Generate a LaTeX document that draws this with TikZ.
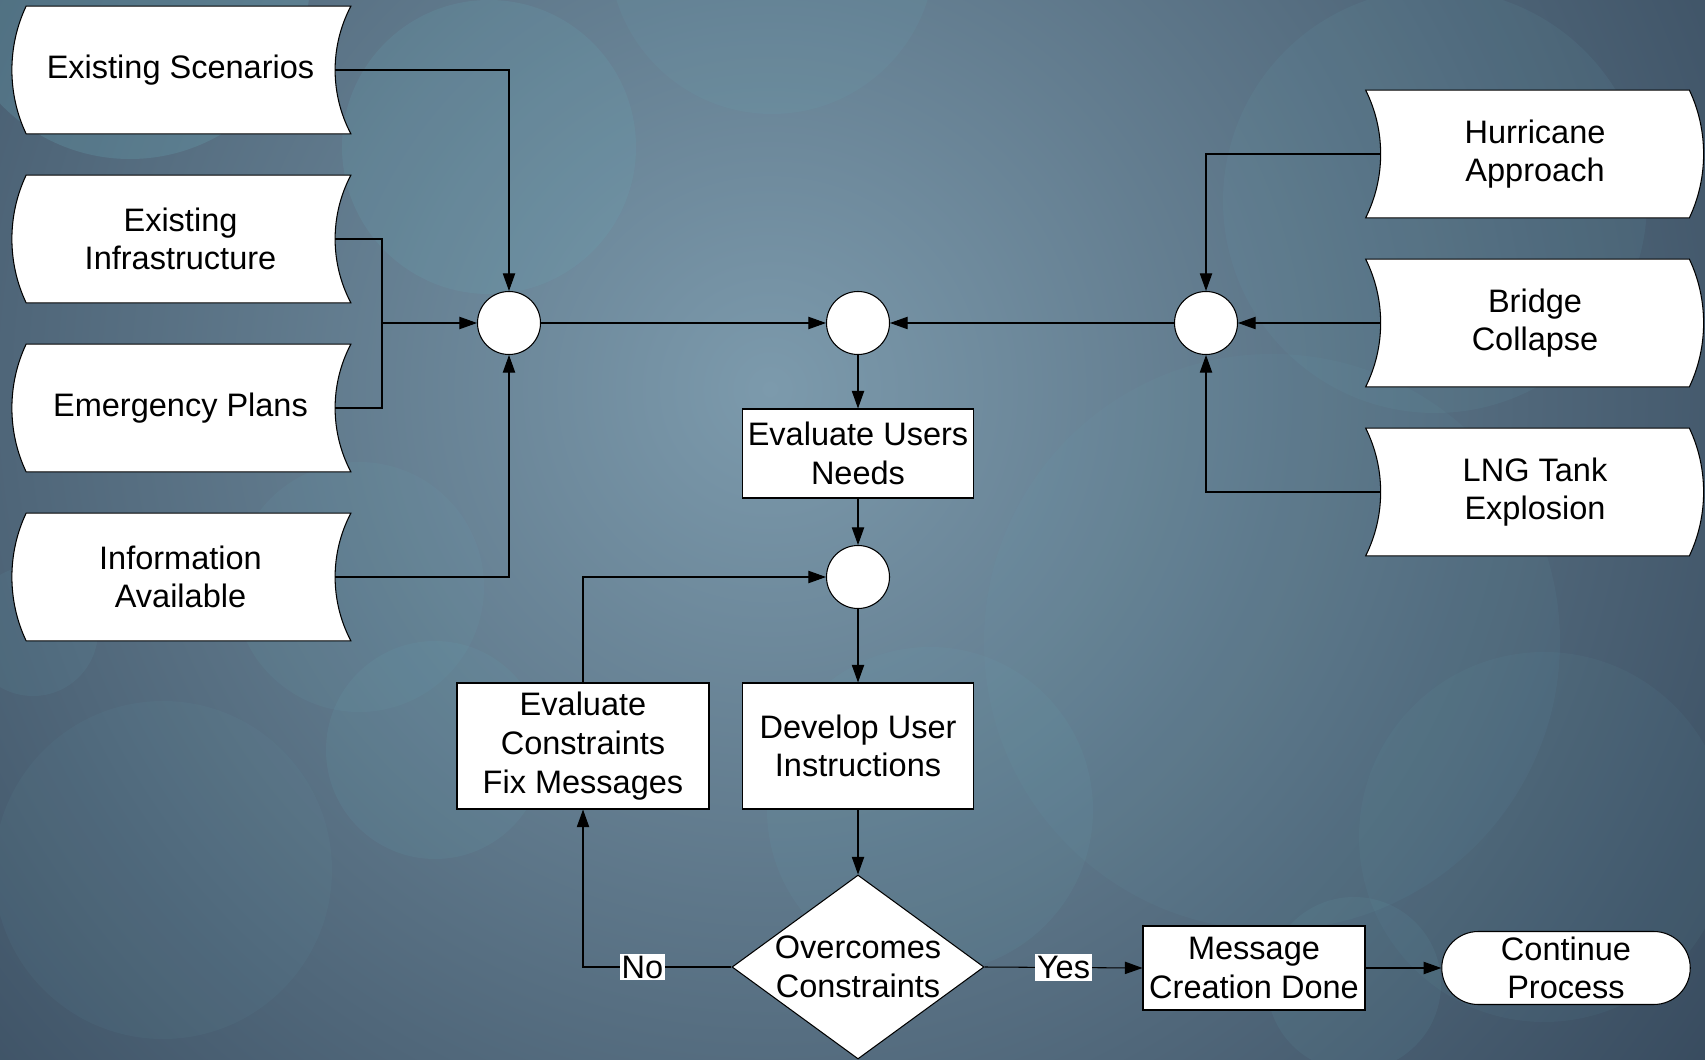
\documentclass[tikz,border=0pt]{standalone}
\usepackage{fontspec}
\setmainfont{Liberation Sans}
\usepackage{tikz}
\usetikzlibrary{arrows.meta,shapes.geometric,shapes.misc}
\pgfdeclarelayer{back}
\pgfsetlayers{back,main}
\definecolor{bgdark}{RGB}{36,52,72}
\definecolor{bgmid}{RGB}{124,154,172}
\definecolor{bgteal}{RGB}{105,168,182}

\begin{document}
\begin{tikzpicture}
\tikzset{edge/.style = {->,> = {Triangle[length=10pt,width=7pt]}, line width=0.6pt},
  txt/.style = {align=center, font=\fontsize{18.5}{22}\selectfont},
  store/.style = {txt, minimum width=6.16cm, minimum height=2.54cm, inner sep=0pt},
  box/.style = {txt, draw=black, fill=white, line width=0.6pt, inner sep=1pt},
  junc/.style = {circle, draw=black, fill=white, line width=0.6pt, minimum size=1.26cm, inner sep=0pt},
  dec/.style = {txt, diamond, draw=black, fill=white, line width=0.6pt, aspect=1.37, minimum width=5.04cm, minimum height=3.68cm, inner sep=-4pt},
  term/.style = {txt, rounded rectangle, draw=black, fill=white, line width=0.6pt, minimum width=5.04cm, minimum height=1.46cm, inner sep=1pt},
  lbl/.style = {txt, fill=white, inner sep=1pt}}

\useasboundingbox (0,0) rectangle (34.1,21.18);

% inputs
\node[store] (ES) at (3.61,19.78) {Existing Scenarios};
\node[store] (EI) at (3.61,16.40) {Existing\\Infrastructure};
\node[store] (EP) at (3.61,13.02) {Emergency Plans};
\node[store] (IA) at (3.61,9.64) {Information\\Available};
\node[store] (HA) at (30.70,18.10) {Hurricane\\Approach};
\node[store] (BC) at (30.70,14.72) {Bridge\\Collapse};
\node[store] (LT) at (30.70,11.34) {LNG Tank\\Explosion};

% junctions
\node[junc] (J1) at (10.18,14.72) {};
\node[junc] (J2) at (17.16,14.72) {};
\node[junc] (J3) at (24.12,14.72) {};
\node[junc] (J4) at (17.16,9.64) {};

% process
\node[box, minimum width=4.62cm, minimum height=1.78cm] (EUN) at (17.16,12.11) {Evaluate Users\\Needs};
\node[box, minimum width=4.62cm, minimum height=2.52cm] (DUI) at (17.16,6.26) {Develop User\\Instructions};
\node[box, minimum width=5.04cm, minimum height=2.52cm] (ECF) at (11.66,6.26) {Evaluate\\Constraints\\Fix Messages};
\node[dec] (OC) at (17.16,1.84) {Overcomes\\Constraints};
\node[box, minimum width=4.44cm, minimum height=1.68cm] (MCD) at (25.08,1.82) {Message\\Creation Done};
\node[term] (CP) at (31.32,1.82) {Continue\\Process};

\coordinate (M1) at (7.64,14.72);

\begin{pgfonlayer}{back}
\begin{scope}
\clip (0,0) rectangle (34.1,21.18);
\fill[bgdark] (0,0) rectangle (34.1,21.18);
\shade[inner color=bgmid, outer color=bgdark] (15.4,13.4) circle (30cm);
\fill[bgteal, opacity=0.25] (2.6,21.6) circle (3.6cm);
\fill[bgteal, opacity=0.12] (15.44,22.16) circle (3.26cm);
\fill[bgteal, opacity=0.18] (9.78,18.24) circle (2.94cm);
\fill[bgteal, opacity=0.10] (28.7,17.16) circle (4.24cm);
\fill[bgteal, opacity=0.08] (25.44,8.34) circle (5.76cm);
\fill[bgteal, opacity=0.07] (3.26,3.78) circle (3.38cm);
\fill[bgteal, opacity=0.10] (7.18,9.44) circle (2.5cm);
\fill[bgteal, opacity=0.12] (8.7,6.18) circle (2.18cm);
\fill[bgteal, opacity=0.10] (18.6,4.98) circle (3.26cm);
\fill[bgteal, opacity=0.07] (30.88,4.44) circle (3.7cm);
\fill[bgteal, opacity=0.10] (27.08,1.5) circle (1.74cm);
\fill[bgteal, opacity=0.10] (0.66,8.56) circle (1.3cm);
\end{scope}
\foreach \n in {ES,EI,EP,IA}
  \draw[line width=0.6pt, fill=white] ([xshift=0.32cm]\n.north east) .. controls ([xshift=-0.1cm,yshift=-0.8cm]\n.north east) and ([xshift=-0.1cm,yshift=0.8cm]\n.south east) .. ([xshift=0.32cm]\n.south east) -- (\n.south west) .. controls ([xshift=-0.38cm,yshift=0.8cm]\n.south west) and ([xshift=-0.38cm,yshift=-0.8cm]\n.north west) .. (\n.north west) -- cycle;
\foreach \n in {HA,BC,LT}
  \draw[line width=0.6pt, fill=white] ([xshift=-0.3cm]\n.north west) -- (\n.north east) .. controls ([xshift=0.38cm,yshift=-0.8cm]\n.north east) and ([xshift=0.38cm,yshift=0.8cm]\n.south east) .. (\n.south east) -- ([xshift=-0.3cm]\n.south west) .. controls ([xshift=0.1cm,yshift=0.8cm]\n.south west) and ([xshift=0.1cm,yshift=-0.8cm]\n.north west) .. cycle;
\end{pgfonlayer}

% connectors
\draw[edge] (ES.east) -| (J1.north);
\draw[line width=0.6pt] (EI.east) -| (M1);
\draw[line width=0.6pt] (EP.east) -| (M1);
\draw[edge] (M1) -- (J1.west);
\draw[edge] (IA.east) -| (J1.south);
\draw[edge] (J1) -- (J2);
\draw[edge] (J3) -- (J2);
\draw[edge] (HA.west) -| (J3.north);
\draw[edge] (BC.west) -- (J3.east);
\draw[edge] (LT.west) -| (J3.south);
\draw[edge] (J2) -- (EUN);
\draw[edge] (EUN) -- (J4);
\draw[edge] (J4) -- (DUI);
\draw[edge] (DUI) -- (OC);
\draw[edge] (OC.west) -| node[lbl, pos=0.3] {No} (ECF.south);
\draw[edge] (ECF.north) |- (J4.west);
\draw[edge] (OC.east) -- node[lbl] {Yes} (MCD.west);
\draw[edge] (MCD) -- (CP);
\end{tikzpicture}
\end{document}
